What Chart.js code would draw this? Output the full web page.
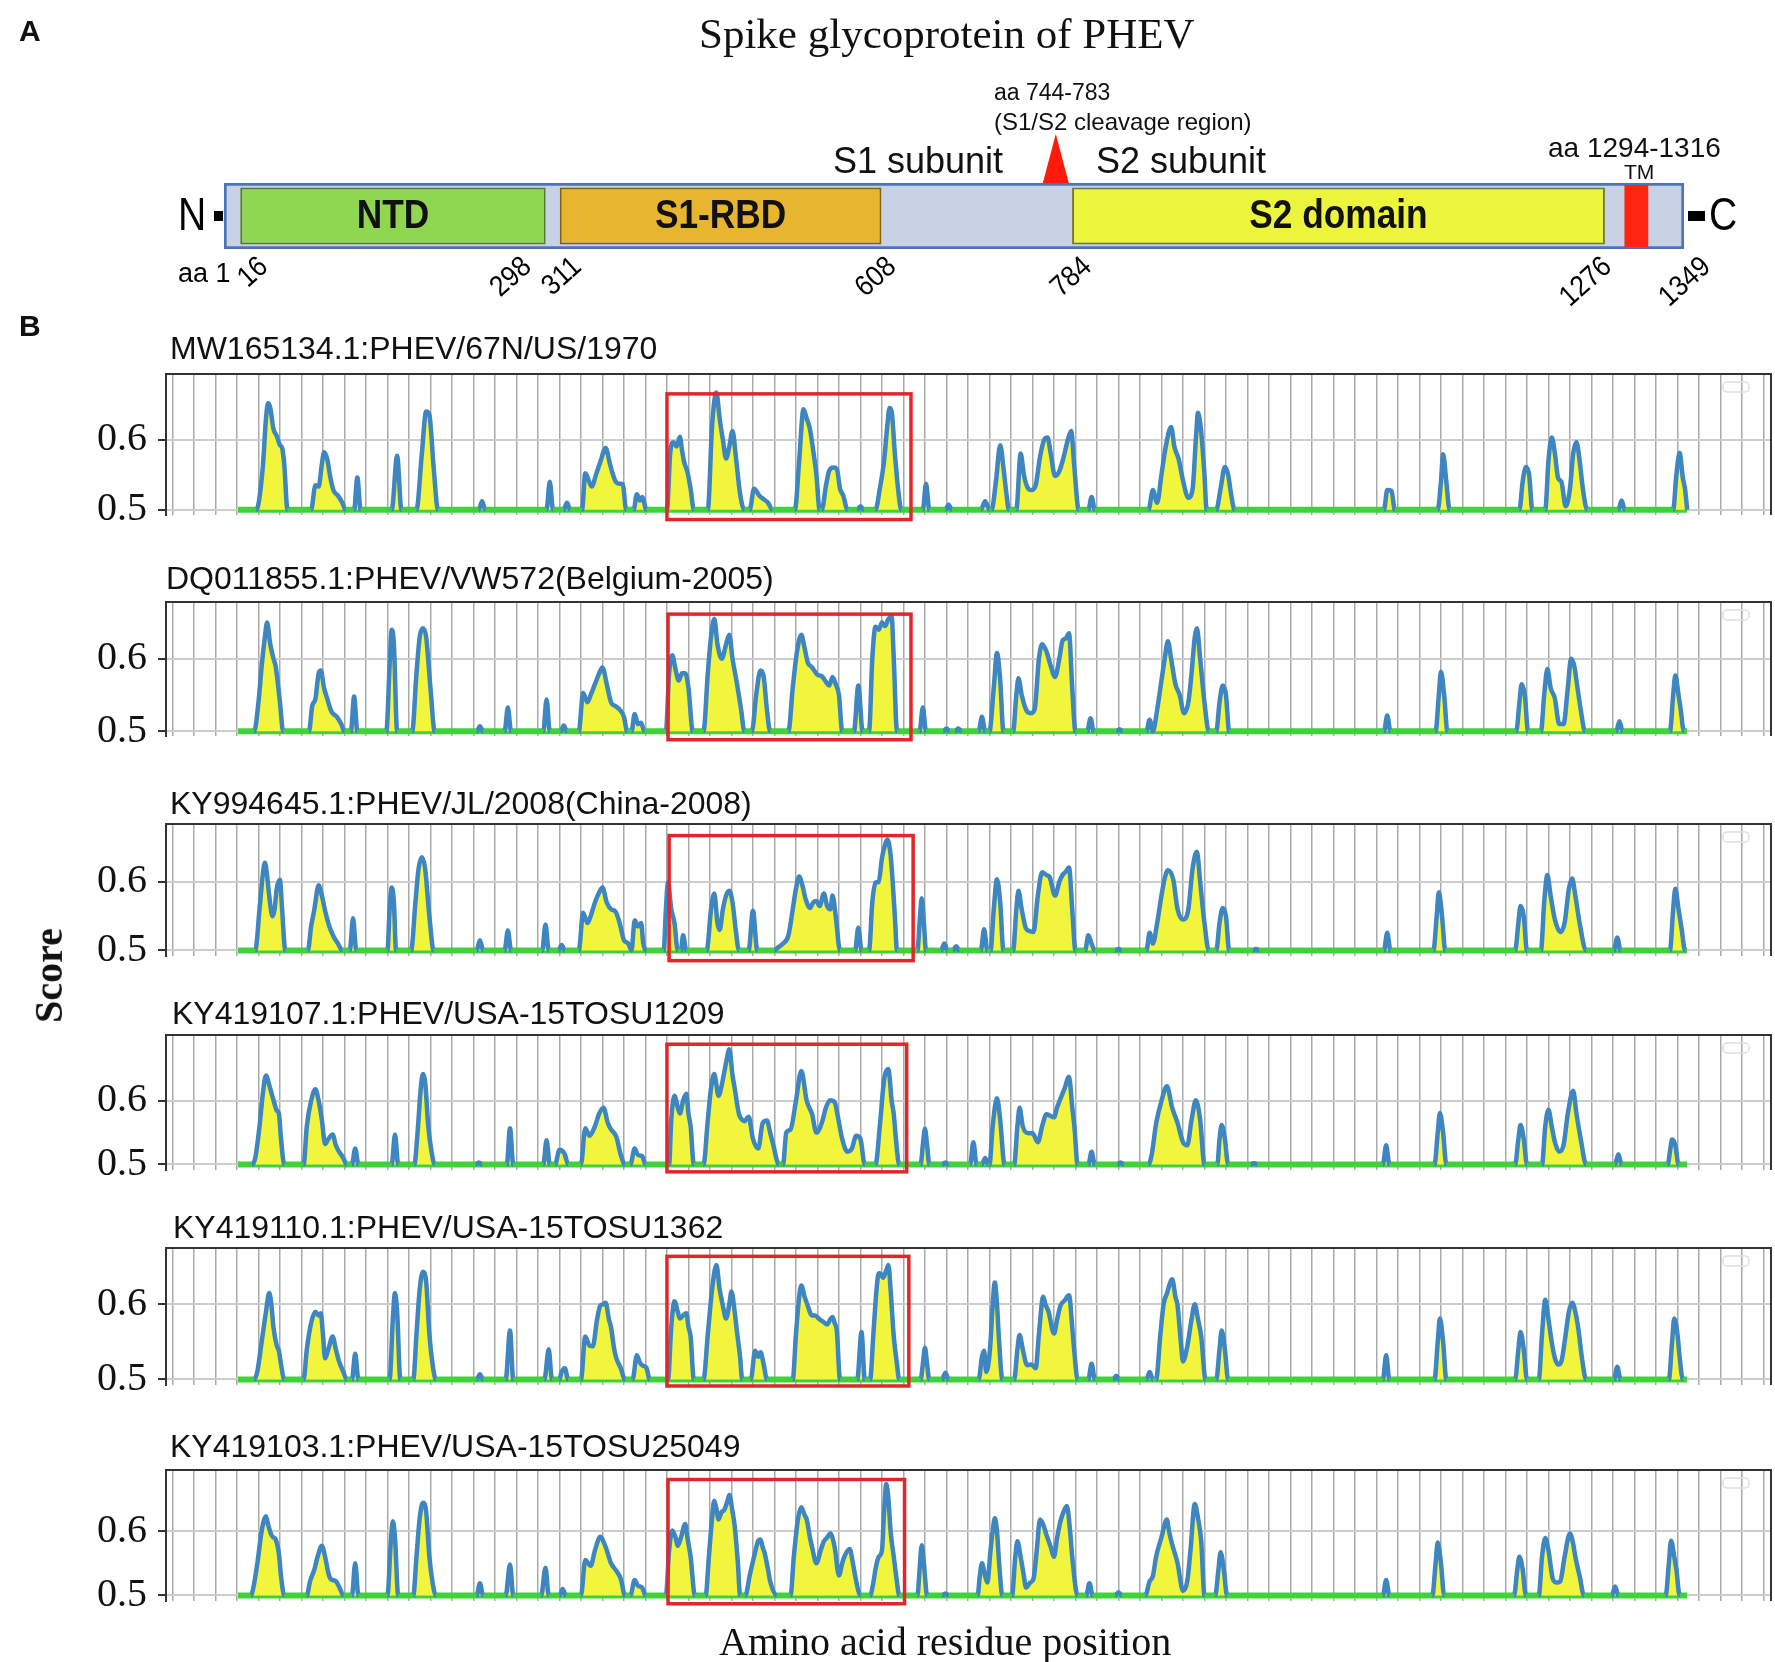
<!DOCTYPE html>
<html>
<head>
<meta charset="utf-8">
<script src="https://cdn.jsdelivr.net/npm/chart.js@4.4.1/dist/chart.umd.min.js"></script>
<style>
  html, body { margin: 0; padding: 0; background: #fff; }
  #page { position: relative; width: 1775px; height: 1662px; overflow: hidden; background: #fff; }
  #page canvas { position: absolute; left: 0; }
  .txt { position: absolute; white-space: nowrap; color: #111; line-height: 1; z-index: 5; }
</style>
</head>
<body>
<div id="page">
  <canvas id="domains" width="1775" height="330" style="top:0"></canvas>
</div>
<script>
// ---- panel A: spike domain map ----
var proteinLength = 1349;
var domainNames = ['NTD', 'S1-RBD', 'S2 domain', 'TM'];
var domainStart = [16, 311, 784, 1294];
var domainEnd = [298, 608, 1276, 1316];
var boundaryTicks = [16, 298, 311, 608, 784, 1276, 1349];
var cleavageMark = 769;

// ---- panel B: epitope score profiles (residue, score) ----
var titles = [
  'MW165134.1:PHEV/67N/US/1970',
  'DQ011855.1:PHEV/VW572(Belgium-2005)',
  'KY994645.1:PHEV/JL/2008(China-2008)',
  'KY419107.1:PHEV/USA-15TOSU1209',
  'KY419110.1:PHEV/USA-15TOSU1362',
  'KY419103.1:PHEV/USA-15TOSU25049'
];
var yTicks = [0.5, 0.6];
var threshold = 0.5;

var s1 = [[1,0.5],[18,0.5],[24,0.56],[27,0.63],[29,0.652],[31,0.645],[34,0.615],[37,0.605],[40,0.592],[42,0.588],[44,0.565],[47,0.5],
  [69,0.5],[73,0.535],[76,0.533],[79,0.565],[81,0.582],[84,0.572],[87,0.545],[90,0.527],[94,0.52],[98,0.51],[101,0.5],
  [109,0.5],[112,0.546],[115,0.5],[144,0.5],[149,0.577],[153,0.5],
  [167,0.5],[172,0.58],[176,0.64],[179,0.635],[183,0.56],[187,0.5],
  [225,0.5],[228,0.512],[231,0.5],[288,0.5],[291,0.54],[294,0.5],[304,0.5],[307,0.51],[310,0.5],
  [321,0.5],[324,0.552],[330,0.533],[334,0.55],[338,0.568],[343,0.588],[347,0.565],[352,0.541],[356,0.537],[359,0.536],[362,0.5],
  [369,0.5],[372,0.522],[375,0.513],[377,0.518],[381,0.5],
  [400,0.5],[403,0.58],[406,0.596],[409,0.59],[412,0.604],[414,0.585],[416,0.568],[419,0.554],[422,0.53],[425,0.5],
  [438,0.5],[442,0.62],[446,0.667],[449,0.63],[452,0.6],[455,0.573],[458,0.59],[461,0.612],[464,0.577],[468,0.523],[472,0.5],
  [477,0.5],[481,0.53],[486,0.52],[490,0.515],[494,0.51],[498,0.5],
  [519,0.5],[523,0.57],[527,0.643],[530,0.63],[533,0.615],[536,0.585],[539,0.55],[542,0.5],
  [544,0.5],[548,0.535],[551,0.556],[555,0.56],[558,0.558],[561,0.53],[564,0.52],[568,0.5],
  [577,0.5],[580,0.505],[583,0.5],
  [594,0.5],[598,0.53],[602,0.57],[605,0.62],[607,0.645],[609,0.64],[612,0.58],[615,0.53],[618,0.5],
  [638,0.5],[641,0.537],[644,0.5],[659,0.5],[662,0.507],[665,0.5],[692,0.5],[696,0.512],[700,0.5],
  [702,0.5],[706,0.54],[710,0.592],[713,0.56],[716,0.52],[718,0.5],
  [725,0.5],[729,0.58],[732,0.55],[735,0.533],[739,0.528],[743,0.535],[747,0.575],[751,0.6],[754,0.603],[757,0.58],[761,0.548],[765,0.555],[769,0.575],[773,0.6],[776,0.612],[779,0.56],[783,0.5],
  [792,0.5],[795,0.518],[798,0.5],
  [848,0.5],[852,0.528],[856,0.51],[860,0.55],[864,0.59],[869,0.618],[872,0.59],[876,0.572],[880,0.542],[885,0.517],[889,0.53],[892,0.6],[894,0.638],[897,0.61],[900,0.55],[902,0.5],
  [911,0.5],[915,0.53],[919,0.561],[922,0.55],[925,0.52],[928,0.5],
  [1067,0.5],[1070,0.528],[1074,0.527],[1077,0.5],
  [1117,0.5],[1120,0.54],[1122,0.579],[1125,0.54],[1128,0.5],
  [1193,0.5],[1196,0.54],[1199,0.561],[1202,0.55],[1205,0.5],
  [1217,0.5],[1220,0.57],[1223,0.603],[1226,0.58],[1229,0.545],[1232,0.54],[1236,0.505],[1240,0.53],[1243,0.58],[1246,0.596],[1249,0.57],[1252,0.53],[1256,0.5],
  [1285,0.5],[1288,0.513],[1291,0.5],
  [1336,0.5],[1339,0.55],[1342,0.581],[1345,0.545],[1347,0.53],[1349,0.5]];

var s2 = [[1,0.5],[16,0.5],[20,0.54],[23,0.59],[26,0.63],[28,0.65],[31,0.62],[34,0.6],[36,0.59],[38,0.567],[40,0.54],[43,0.5],
  [67,0.5],[70,0.535],[73,0.545],[76,0.58],[78,0.584],[81,0.56],[84,0.545],[88,0.527],[93,0.52],[97,0.51],[100,0.5],
  [106,0.5],[109,0.548],[112,0.5],[139,0.5],[142,0.59],[144,0.64],[146,0.62],[149,0.5],
  [163,0.5],[167,0.58],[170,0.63],[173,0.642],[176,0.63],[180,0.56],[184,0.5],
  [223,0.5],[226,0.507],[229,0.5],[249,0.5],[252,0.533],[255,0.5],[285,0.5],[288,0.544],[291,0.5],[301,0.5],[304,0.508],[307,0.5],
  [318,0.5],[322,0.553],[326,0.54],[329,0.55],[333,0.565],[337,0.58],[340,0.588],[344,0.565],[348,0.54],[352,0.535],[356,0.53],[360,0.52],[363,0.5],
  [367,0.5],[370,0.524],[373,0.51],[376,0.512],[379,0.5],
  [399,0.5],[402,0.58],[405,0.605],[408,0.585],[411,0.57],[414,0.58],[417,0.58],[420,0.56],[424,0.5],
  [434,0.5],[438,0.58],[441,0.63],[444,0.655],[447,0.62],[451,0.6],[455,0.62],[458,0.633],[461,0.6],[465,0.567],[469,0.53],[472,0.5],
  [479,0.5],[483,0.55],[487,0.584],[490,0.575],[493,0.53],[496,0.5],
  [513,0.5],[517,0.56],[521,0.61],[525,0.633],[528,0.615],[531,0.595],[535,0.588],[540,0.578],[544,0.576],[548,0.568],[551,0.563],[554,0.575],[557,0.565],[560,0.55],[563,0.5],
  [574,0.5],[578,0.563],[582,0.5],
  [588,0.5],[591,0.6],[594,0.644],[597,0.64],[600,0.65],[603,0.645],[606,0.655],[609,0.658],[611,0.6],[614,0.5],
  [635,0.5],[638,0.533],[641,0.5],[657,0.5],[660,0.504],[663,0.5],[668,0.5],[671,0.504],[674,0.5],[690,0.5],[693,0.52],[696,0.5],
  [700,0.5],[704,0.56],[707,0.608],[710,0.57],[713,0.5],
  [722,0.5],[725,0.55],[727,0.573],[730,0.55],[734,0.53],[738,0.525],[742,0.53],[746,0.6],[749,0.62],[753,0.61],[757,0.59],[761,0.575],[765,0.6],[768,0.625],[771,0.628],[774,0.635],[777,0.56],[780,0.5],
  [791,0.5],[794,0.518],[797,0.5],[818,0.5],[821,0.503],[824,0.5],
  [846,0.5],[849,0.516],[852,0.5],[856,0.53],[860,0.57],[863,0.6],[866,0.624],[869,0.6],[873,0.565],[877,0.55],[881,0.525],[885,0.54],[888,0.58],[891,0.63],[893,0.642],[896,0.6],[900,0.54],[904,0.5],
  [911,0.5],[914,0.54],[917,0.563],[920,0.55],[923,0.5],
  [1067,0.5],[1070,0.522],[1073,0.5],
  [1115,0.5],[1118,0.55],[1120,0.582],[1123,0.55],[1126,0.5],
  [1190,0.5],[1193,0.54],[1195,0.565],[1198,0.55],[1201,0.5],
  [1213,0.5],[1216,0.55],[1219,0.586],[1222,0.56],[1226,0.545],[1230,0.51],[1234,0.51],[1238,0.56],[1241,0.6],[1244,0.59],[1247,0.56],[1250,0.53],[1254,0.5],
  [1283,0.5],[1286,0.514],[1289,0.5],
  [1333,0.5],[1336,0.55],[1338,0.577],[1341,0.55],[1343,0.53],[1346,0.5],[1349,0.5]];

var s3 = [[1,0.5],[17,0.5],[21,0.56],[24,0.61],[26,0.628],[28,0.61],[30,0.58],[33,0.55],[35,0.56],[37,0.59],[40,0.603],[42,0.56],[45,0.5],
  [66,0.5],[69,0.535],[72,0.56],[76,0.595],[79,0.58],[82,0.558],[86,0.535],[90,0.52],[94,0.51],[98,0.5],
  [105,0.5],[108,0.547],[111,0.5],[140,0.5],[142,0.56],[144,0.592],[146,0.57],[148,0.5],
  [162,0.5],[166,0.57],[169,0.62],[172,0.636],[175,0.62],[179,0.55],[183,0.5],
  [223,0.5],[226,0.515],[229,0.5],[249,0.5],[252,0.529],[255,0.5],[284,0.5],[287,0.538],[290,0.5],[299,0.5],[302,0.508],[305,0.5],
  [318,0.5],[322,0.555],[326,0.54],[329,0.55],[333,0.57],[337,0.585],[340,0.592],[344,0.57],[348,0.56],[352,0.557],[356,0.54],[360,0.515],[364,0.51],[367,0.5],[370,0.544],[373,0.535],[376,0.54],[378,0.51],[381,0.5],
  [397,0.5],[399,0.56],[401,0.599],[404,0.56],[407,0.54],[410,0.5],[413,0.5],[415,0.522],[418,0.5],
  [437,0.5],[441,0.56],[444,0.583],[447,0.54],[449,0.53],[452,0.56],[455,0.58],[458,0.587],[461,0.57],[464,0.53],[467,0.5],
  [476,0.5],[480,0.558],[484,0.5],
  [500,0.5],[503,0.504],[508,0.51],[513,0.522],[517,0.56],[520,0.59],[523,0.608],[526,0.595],[529,0.575],[533,0.562],[536,0.57],[539,0.572],[542,0.565],[546,0.583],[549,0.565],[552,0.56],[554,0.58],[557,0.55],[561,0.5],
  [575,0.5],[578,0.533],[581,0.5],
  [588,0.5],[591,0.57],[594,0.599],[597,0.6],[600,0.635],[603,0.655],[605,0.662],[608,0.64],[610,0.6],[612,0.55],[614,0.5],
  [633,0.5],[635,0.54],[637,0.576],[639,0.54],[641,0.5],[655,0.5],[658,0.51],[661,0.5],[666,0.5],[669,0.506],[672,0.5],[692,0.5],[695,0.531],[698,0.5],
  [701,0.5],[704,0.56],[707,0.604],[710,0.57],[713,0.5],
  [722,0.5],[725,0.56],[727,0.587],[730,0.56],[734,0.532],[738,0.528],[741,0.527],[745,0.58],[749,0.614],[753,0.61],[756,0.607],[761,0.58],[765,0.6],[768,0.61],[771,0.615],[774,0.621],[777,0.56],[780,0.5],
  [789,0.5],[792,0.522],[795,0.51],[798,0.5],[817,0.5],[820,0.502],[823,0.5],
  [846,0.5],[849,0.526],[852,0.51],[856,0.54],[860,0.58],[863,0.605],[866,0.617],[871,0.603],[875,0.56],[880,0.545],[885,0.56],[889,0.62],[893,0.644],[896,0.6],[900,0.54],[904,0.5],
  [911,0.5],[914,0.54],[917,0.562],[920,0.55],[923,0.5],[945,0.5],[948,0.502],[951,0.5],
  [1067,0.5],[1070,0.526],[1073,0.5],
  [1113,0.5],[1116,0.55],[1118,0.585],[1121,0.55],[1124,0.5],
  [1189,0.5],[1192,0.54],[1194,0.565],[1197,0.55],[1200,0.5],
  [1213,0.5],[1216,0.57],[1219,0.61],[1222,0.58],[1226,0.545],[1231,0.527],[1235,0.54],[1239,0.59],[1242,0.605],[1245,0.58],[1249,0.54],[1255,0.5],
  [1281,0.5],[1284,0.519],[1287,0.5],
  [1333,0.5],[1336,0.56],[1338,0.59],[1341,0.56],[1344,0.53],[1347,0.5],[1349,0.5]];

var s4 = [[1,0.5],[14,0.5],[17,0.51],[21,0.56],[24,0.61],[27,0.64],[30,0.625],[32,0.613],[35,0.595],[37,0.585],[39,0.58],[41,0.54],[44,0.5],
  [62,0.5],[65,0.56],[69,0.6],[73,0.618],[76,0.6],[79,0.57],[82,0.532],[85,0.54],[89,0.547],[92,0.53],[95,0.52],[99,0.51],[102,0.5],
  [107,0.5],[110,0.525],[113,0.5],[144,0.5],[147,0.547],[150,0.5],
  [165,0.5],[168,0.55],[171,0.62],[173,0.642],[175,0.63],[178,0.56],[181,0.52],[184,0.5],
  [222,0.5],[225,0.503],[228,0.5],[251,0.5],[254,0.557],[257,0.5],
  [285,0.5],[288,0.538],[291,0.5],[296,0.5],[300,0.523],[305,0.516],[308,0.5],
  [320,0.5],[324,0.557],[328,0.545],[333,0.56],[337,0.58],[341,0.589],[345,0.565],[348,0.555],[353,0.543],[357,0.515],[361,0.5],
  [366,0.5],[370,0.525],[373,0.515],[377,0.513],[380,0.5],
  [402,0.5],[404,0.57],[407,0.608],[410,0.59],[412,0.58],[415,0.6],[418,0.611],[420,0.58],[422,0.56],[425,0.5],
  [434,0.5],[438,0.57],[441,0.62],[444,0.642],[448,0.608],[451,0.625],[455,0.66],[458,0.681],[461,0.64],[463,0.62],[467,0.579],[470,0.57],[472,0.568],[476,0.575],[480,0.54],[485,0.525],[489,0.565],[493,0.569],[496,0.55],[499,0.53],[504,0.5],
  [508,0.5],[511,0.55],[515,0.555],[520,0.6],[525,0.647],[530,0.6],[535,0.579],[539,0.55],[544,0.565],[548,0.59],[552,0.601],[556,0.598],[559,0.575],[563,0.54],[568,0.52],[572,0.525],[576,0.545],[580,0.54],[584,0.5],
  [594,0.5],[598,0.56],[602,0.633],[606,0.65],[609,0.6],[611,0.579],[613,0.54],[616,0.5],
  [636,0.5],[638,0.53],[640,0.556],[642,0.53],[644,0.5],[656,0.5],[659,0.503],[662,0.5],[682,0.5],[685,0.535],[688,0.5],[693,0.5],[696,0.51],[699,0.5],
  [700,0.5],[703,0.56],[707,0.604],[710,0.57],[714,0.5],
  [723,0.5],[726,0.56],[728,0.589],[731,0.56],[736,0.549],[740,0.549],[745,0.535],[749,0.56],[753,0.579],[757,0.576],[760,0.574],[763,0.59],[766,0.603],[770,0.62],[774,0.638],[777,0.59],[779,0.56],[782,0.5],
  [792,0.5],[795,0.52],[798,0.5],[819,0.5],[822,0.503],[825,0.5],
  [848,0.5],[851,0.516],[855,0.564],[860,0.6],[865,0.623],[870,0.589],[875,0.565],[880,0.535],[884,0.53],[888,0.57],[892,0.601],[896,0.57],[900,0.5],
  [912,0.5],[914,0.54],[916,0.562],[919,0.54],[922,0.5],[943,0.5],[946,0.502],[949,0.5],
  [1066,0.5],[1069,0.53],[1072,0.5],
  [1114,0.5],[1117,0.55],[1119,0.581],[1122,0.55],[1125,0.5],
  [1189,0.5],[1192,0.54],[1194,0.562],[1197,0.54],[1200,0.5],
  [1214,0.5],[1217,0.56],[1220,0.586],[1223,0.56],[1226,0.535],[1230,0.52],[1234,0.53],[1238,0.58],[1243,0.616],[1246,0.58],[1250,0.54],[1255,0.5],
  [1282,0.5],[1285,0.516],[1288,0.5],
  [1331,0.5],[1333,0.52],[1335,0.539],[1338,0.53],[1341,0.5],[1349,0.5]];

var s5 = [[1,0.5],[16,0.5],[19,0.511],[23,0.55],[27,0.59],[30,0.615],[32,0.6],[34,0.569],[37,0.545],[39,0.538],[41,0.52],[44,0.5],
  [62,0.5],[65,0.54],[69,0.575],[73,0.59],[76,0.585],[78,0.588],[80,0.56],[82,0.528],[85,0.54],[89,0.557],[92,0.54],[95,0.524],[99,0.51],[102,0.5],
  [107,0.5],[110,0.534],[113,0.5],[142,0.5],[145,0.58],[147,0.615],[149,0.59],[152,0.5],
  [164,0.5],[167,0.56],[170,0.62],[173,0.643],[176,0.63],[179,0.56],[182,0.52],[185,0.5],
  [223,0.5],[226,0.507],[229,0.5],[250,0.5],[254,0.565],[257,0.5],
  [286,0.5],[290,0.54],[293,0.5],[300,0.5],[302,0.51],[305,0.515],[308,0.5],
  [320,0.5],[324,0.557],[328,0.545],[331,0.544],[335,0.58],[338,0.598],[341,0.6],[343,0.602],[346,0.58],[348,0.569],[351,0.54],[353,0.528],[357,0.515],[361,0.5],
  [368,0.5],[372,0.532],[375,0.522],[377,0.519],[381,0.515],[384,0.5],
  [401,0.5],[404,0.57],[407,0.604],[410,0.59],[412,0.581],[415,0.585],[418,0.588],[420,0.57],[422,0.557],[425,0.5],
  [434,0.5],[438,0.56],[442,0.62],[446,0.652],[449,0.62],[452,0.598],[455,0.581],[458,0.6],[460,0.617],[463,0.59],[465,0.565],[468,0.53],[470,0.5],
  [478,0.5],[482,0.538],[485,0.53],[487,0.536],[490,0.52],[493,0.5],
  [517,0.5],[520,0.56],[523,0.61],[525,0.625],[528,0.61],[530,0.602],[535,0.585],[538,0.585],[541,0.581],[545,0.577],[549,0.573],[552,0.58],[554,0.583],[556,0.575],[558,0.565],[561,0.5],
  [577,0.5],[581,0.563],[584,0.5],
  [589,0.5],[592,0.56],[595,0.62],[597,0.641],[599,0.64],[601,0.635],[604,0.645],[606,0.652],[608,0.62],[611,0.557],[614,0.52],[616,0.5],
  [636,0.5],[638,0.52],[640,0.542],[642,0.52],[644,0.5],[656,0.5],[659,0.509],[662,0.5],
  [690,0.5],[693,0.53],[695,0.538],[697,0.51],[699,0.52],[701,0.55],[703,0.6],[705,0.629],[707,0.6],[709,0.55],[712,0.5],
  [723,0.5],[726,0.54],[728,0.559],[731,0.54],[735,0.519],[739,0.52],[743,0.515],[746,0.56],[750,0.61],[752,0.6],[755,0.59],[760,0.561],[763,0.58],[766,0.598],[770,0.605],[774,0.612],[777,0.57],[779,0.536],[782,0.5],
  [792,0.5],[795,0.521],[798,0.5],[815,0.5],[818,0.505],[821,0.5],
  [846,0.5],[849,0.51],[852,0.5],[855,0.5],[859,0.56],[862,0.6],[865,0.614],[870,0.633],[873,0.61],[875,0.598],[878,0.55],[880,0.524],[884,0.544],[888,0.58],[891,0.6],[894,0.58],[897,0.557],[901,0.5],
  [911,0.5],[914,0.54],[916,0.565],[919,0.54],[922,0.5],
  [1066,0.5],[1069,0.532],[1072,0.5],
  [1114,0.5],[1117,0.55],[1119,0.581],[1122,0.55],[1125,0.5],
  [1189,0.5],[1192,0.54],[1194,0.563],[1197,0.54],[1200,0.5],
  [1211,0.5],[1214,0.56],[1217,0.606],[1220,0.58],[1223,0.55],[1226,0.528],[1229,0.52],[1232,0.524],[1236,0.56],[1239,0.59],[1242,0.602],[1245,0.59],[1248,0.565],[1251,0.53],[1255,0.5],
  [1281,0.5],[1284,0.517],[1287,0.5],
  [1332,0.5],[1335,0.55],[1337,0.581],[1340,0.56],[1342,0.53],[1345,0.5],[1349,0.5]];

var s6 = [[1,0.5],[13,0.5],[15,0.51],[19,0.55],[23,0.6],[27,0.623],[29,0.61],[32,0.594],[34,0.59],[36,0.587],[39,0.565],[41,0.53],[44,0.5],
  [65,0.5],[68,0.522],[72,0.54],[75,0.56],[79,0.577],[82,0.56],[85,0.535],[87,0.526],[92,0.522],[96,0.51],[99,0.5],
  [107,0.5],[110,0.55],[113,0.5],[140,0.5],[143,0.58],[145,0.615],[147,0.59],[150,0.5],
  [164,0.5],[167,0.56],[170,0.62],[173,0.644],[176,0.63],[179,0.56],[182,0.52],[185,0.5],
  [223,0.5],[226,0.519],[229,0.5],[250,0.5],[254,0.548],[257,0.5],
  [283,0.5],[287,0.543],[290,0.5],[300,0.5],[303,0.51],[306,0.5],
  [320,0.5],[324,0.555],[329,0.546],[333,0.57],[338,0.591],[343,0.575],[348,0.55],[353,0.538],[357,0.526],[361,0.5],
  [366,0.5],[370,0.524],[373,0.515],[377,0.512],[380,0.5],
  [399,0.5],[402,0.57],[405,0.601],[408,0.59],[410,0.577],[413,0.59],[417,0.611],[419,0.59],[422,0.56],[426,0.5],
  [436,0.5],[439,0.56],[442,0.62],[444,0.647],[446,0.635],[448,0.618],[451,0.63],[453,0.632],[456,0.645],[458,0.656],[461,0.63],[463,0.608],[466,0.55],[468,0.5],
  [473,0.5],[477,0.531],[481,0.56],[485,0.585],[487,0.587],[489,0.575],[491,0.565],[494,0.54],[496,0.522],[502,0.5],
  [515,0.5],[518,0.56],[522,0.62],[525,0.637],[528,0.625],[530,0.618],[533,0.59],[535,0.575],[539,0.55],[543,0.57],[546,0.584],[549,0.59],[552,0.596],[556,0.575],[560,0.531],[563,0.55],[565,0.56],[570,0.572],[573,0.55],[575,0.531],[580,0.5],
  [589,0.5],[592,0.52],[594,0.541],[597,0.56],[600,0.57],[602,0.63],[604,0.673],[606,0.65],[608,0.6],[611,0.56],[614,0.52],[616,0.5],
  [633,0.5],[635,0.54],[637,0.578],[639,0.55],[642,0.5],[656,0.5],[659,0.503],[662,0.5],
  [689,0.5],[691,0.53],[693,0.55],[696,0.53],[698,0.52],[701,0.57],[703,0.6],[705,0.62],[707,0.6],[709,0.55],[712,0.5],
  [721,0.5],[724,0.56],[726,0.584],[729,0.56],[732,0.53],[734,0.512],[738,0.52],[741,0.526],[744,0.57],[747,0.618],[750,0.61],[753,0.594],[757,0.575],[760,0.56],[763,0.59],[766,0.615],[769,0.63],[772,0.639],[775,0.6],[777,0.56],[782,0.5],
  [790,0.5],[793,0.519],[796,0.5],[817,0.5],[820,0.505],[823,0.5],
  [845,0.5],[849,0.522],[852,0.53],[855,0.56],[860,0.59],[865,0.618],[867,0.6],[870,0.579],[875,0.55],[880,0.507],[884,0.522],[887,0.57],[891,0.642],[894,0.62],[897,0.584],[900,0.5],
  [910,0.5],[913,0.54],[915,0.567],[918,0.54],[921,0.5],
  [1066,0.5],[1069,0.524],[1072,0.5],
  [1112,0.5],[1115,0.55],[1117,0.582],[1120,0.55],[1123,0.5],
  [1188,0.5],[1191,0.54],[1193,0.56],[1196,0.54],[1199,0.5],
  [1211,0.5],[1214,0.56],[1217,0.589],[1220,0.57],[1224,0.526],[1228,0.52],[1231,0.522],[1235,0.56],[1240,0.596],[1243,0.58],[1245,0.56],[1249,0.53],[1253,0.5],
  [1279,0.5],[1282,0.514],[1285,0.5],
  [1329,0.5],[1332,0.55],[1334,0.585],[1337,0.56],[1339,0.54],[1342,0.5],[1349,0.5]];

var series = [s1, s2, s3, s4, s5, s6];

// boxed S1/S2 junction region per panel (residues, score)
var boxFrom = [400, 401, 402, 400, 400, 401];
var boxTo = [627, 627, 629, 623, 625, 621];
var boxHigh = [0.665, 0.6615, 0.6676, 0.689, 0.6636, 0.68];
var boxLow = [0.486, 0.4885, 0.4851, 0.4883, 0.4913, 0.487];

// axis ranges per panel
var xMin = -66, xMax = 1427;
var yMin = [0.4925, 0.4936, 0.4919, 0.4912, 0.4926, 0.4913];
var yMax = [0.6933, 0.6782, 0.6845, 0.7035, 0.6747, 0.6948];

// ---------------------------------------------------------------
var page = document.getElementById('page');
var SANS = '"Liberation Sans", Arial, sans-serif';
var SERIF = '"Liberation Serif", "Times New Roman", serif';
Chart.defaults.font.family = SANS;

function addText(txt, x, cy, css, align) {
    var d = document.createElement('div');
    d.className = 'txt';
    d.textContent = txt;
    d.style.cssText = css;
    page.appendChild(d);
    var w = d.offsetWidth, h = d.offsetHeight;
    d.style.top = (cy - h / 2) + 'px';
    d.style.left = (align === 'center' ? x - w / 2 : x) + 'px';
    return d;
}

// static labels
addText('A', 19, 31, 'font:bold 30px ' + SANS);
addText('B', 19, 326, 'font:bold 30px ' + SANS);
addText('Spike glycoprotein of PHEV', 947, 33, 'font:43px ' + SERIF, 'center');
addText('aa 744-783', 994, 92, 'font:23px ' + SANS);
addText('(S1/S2 cleavage region)', 994, 122, 'font:24px ' + SANS);
addText('S1 subunit', 918, 161, 'font:36px ' + SANS, 'center');
addText('S2 subunit', 1181, 161, 'font:36px ' + SANS, 'center');
addText('aa 1294-1316', 1548, 148, 'font:28px ' + SANS);
addText('TM', 1639, 172, 'font:21px ' + SANS, 'center');
addText('Amino acid residue position', 945, 1641, 'font:40px ' + SERIF, 'center');
var sc = addText('Score', 48, 975, 'font:bold 40px ' + SERIF, 'center');
sc.style.transform = 'rotate(-90deg)';

// ---- panel A chart ----
var domainFill = ['#8fd651', '#e8b530', '#ecf53c', '#ff2511'];
var domainEdge = ['#4f7d36', '#7d6222', '#6f7c37', '#ff2511'];
var numNudge = {16: 14, 298: -28, 311: 8, 608: 1, 784: 6, 1276: -7, 1349: 13};

var domainLabels = {
    id: 'domainLabels',
    afterDatasetsDraw: function (chart) {
        var ctx = chart.ctx, x = chart.scales.x, a = chart.chartArea;
        var cy = (a.top + a.bottom) / 2;
        var left = x.getPixelForValue(1), right = x.getPixelForValue(proteinLength);
        ctx.save();
        ctx.fillStyle = '#111';
        ctx.textAlign = 'center';
        ctx.textBaseline = 'middle';
        for (var i = 0; i < 3; i++) {
            var cx = (x.getPixelForValue(domainStart[i]) + x.getPixelForValue(domainEnd[i])) / 2;
            ctx.save();
            ctx.translate(cx, cy + 1);
            ctx.scale(0.86, 1);
            ctx.font = 'bold 41px ' + SANS;
            ctx.fillText(domainNames[i], 0, 0);
            ctx.restore();
        }
        // termini
        ctx.fillStyle = '#000';
        ctx.fillRect(left - 10, cy - 5, 9, 10);
        ctx.fillRect(right + 4, cy - 5, 17, 10);
        ctx.save();
        ctx.font = '46px ' + SANS;
        ctx.translate(left - 32, cy + 1);
        ctx.scale(0.85, 1);
        ctx.fillText('N', 0, 0);
        ctx.restore();
        ctx.save();
        ctx.font = '46px ' + SANS;
        ctx.translate(right + 39, cy + 1);
        ctx.scale(0.85, 1);
        ctx.fillText('C', 0, 0);
        ctx.restore();
        ctx.textAlign = 'left';
        ctx.font = '27px ' + SANS;
        ctx.fillText('aa 1', left - 46, 275);
        // boundary numbers
        ctx.textAlign = 'right';
        ctx.textBaseline = 'top';
        boundaryTicks.forEach(function (b) {
            ctx.save();
            ctx.translate(x.getPixelForValue(b) + numNudge[b], a.bottom + 3);
            ctx.rotate(-42 * Math.PI / 180);
            ctx.scale(0.9, 1);
            ctx.font = '29px ' + SANS;
            ctx.fillText(String(b), 0, 0);
            ctx.restore();
        });
        // cleavage marker
        var tx = x.getPixelForValue(cleavageMark);
        ctx.fillStyle = '#ff1a0a';
        ctx.beginPath();
        ctx.moveTo(tx, a.top - 49);
        ctx.lineTo(tx + 13, a.top);
        ctx.lineTo(tx - 13, a.top);
        ctx.closePath();
        ctx.fill();
        ctx.restore();
    }
};

new Chart(document.getElementById('domains'), {
    type: 'bar',
    data: {
        labels: ['S'],
        datasets: [{
            label: 'S',
            data: [[1, proteinLength]],
            backgroundColor: '#c9d1e4',
            borderColor: '#4c74bb',
            borderWidth: 3,
            borderSkipped: false,
            barPercentage: 1,
            categoryPercentage: 1,
            order: 9
        }].concat(domainNames.map(function (n, i) {
            return {
                label: n,
                data: [[domainStart[i], domainEnd[i]]],
                backgroundColor: domainFill[i],
                borderColor: domainEdge[i],
                borderWidth: n === 'TM' ? 0 : 2,
                borderSkipped: false,
                barPercentage: n === 'TM' ? 0.94 : 0.86,
                categoryPercentage: 1,
                order: i
            };
        }))
    },
    options: {
        indexAxis: 'y',
        responsive: false,
        animation: false,
        devicePixelRatio: 1,
        datasets: { bar: { grouped: false } },
        layout: { padding: { left: 224, right: 91, top: 183, bottom: 81 } },
        scales: {
            x: { display: false, min: 1, max: proteinLength },
            y: { display: false }
        },
        plugins: { legend: { display: false }, tooltip: { enabled: false } }
    },
    plugins: [domainLabels]
});

// ---- panel B charts ----
var plotTop = [369, 597, 819, 1030, 1243, 1465];
var plotBottom = [520, 741, 961, 1175, 1390, 1606];
var titleY = [348, 578, 803, 1013, 1227, 1446];
var titleX = [170, 166, 170, 172, 173, 170];
var PAD = 30;
var BLUE = '#3d86c1', GREEN = '#41d13b', YELLOW = '#f1f53c';

var frameAndBox = {
    id: 'frameAndBox',
    afterDatasetsDraw: function (chart, args, opts) {
        var ctx = chart.ctx, a = chart.chartArea, x = chart.scales.x, y = chart.scales.y;
        var k = opts.index;
        ctx.save();
        ctx.strokeStyle = '#333';
        ctx.lineWidth = 2;
        ctx.beginPath();
        ctx.moveTo(a.left, a.top);
        ctx.lineTo(a.right, a.top);
        ctx.lineTo(a.right, a.bottom);
        ctx.stroke();
        // faint legend stub
        ctx.strokeStyle = '#dedede';
        ctx.lineWidth = 1.5;
        ctx.beginPath();
        ctx.roundRect(a.right - 48, a.top + 8, 26, 10, 4);
        ctx.stroke();
        // boxed region
        var x0 = x.getPixelForValue(boxFrom[k]), x1 = x.getPixelForValue(boxTo[k]);
        var y0 = y.getPixelForValue(boxHigh[k]), y1 = y.getPixelForValue(boxLow[k]);
        ctx.strokeStyle = '#e2262a';
        ctx.lineWidth = 3.5;
        ctx.strokeRect(x0, y0, x1 - x0, y1 - y0);
        ctx.restore();
    }
};

function toPoints(s) {
    return s.map(function (p) { return { x: p[0], y: p[1] }; });
}

series.forEach(function (s, k) {
    var cv = document.createElement('canvas');
    var h = plotBottom[k] - plotTop[k] + 2 * PAD;
    cv.width = 1775;
    cv.height = h;
    cv.style.top = (plotTop[k] - PAD) + 'px';
    cv.style.width = '1775px';
    cv.style.height = h + 'px';
    page.appendChild(cv);

    addText(titles[k], titleX[k], titleY[k], 'font:32px ' + SANS);

    new Chart(cv, {
        type: 'line',
        data: {
            datasets: [{
                label: titles[k],
                data: toPoints(s),
                borderColor: BLUE,
                borderWidth: 4.5,
                pointRadius: 0,
                cubicInterpolationMode: 'monotone',
                fill: { value: threshold },
                backgroundColor: YELLOW,
                segment: {
                    borderColor: function (c) {
                        return (c.p0.parsed.y <= threshold && c.p1.parsed.y <= threshold) ? 'rgba(0,0,0,0)' : BLUE;
                    }
                },
                order: 0
            }, {
                label: 'threshold',
                data: [{ x: 1, y: threshold }, { x: proteinLength, y: threshold }],
                borderColor: GREEN,
                borderWidth: 6,
                pointRadius: 0,
                fill: false,
                order: 1
            }]
        },
        options: {
            responsive: false,
            animation: false,
            devicePixelRatio: 1,
            layout: { padding: { left: 0, right: 4, top: PAD, bottom: PAD } },
            plugins: {
                legend: { display: false },
                tooltip: { enabled: false },
                frameAndBox: { index: k }
            },
            scales: {
                x: {
                    type: 'linear',
                    min: xMin,
                    max: xMax,
                    border: { display: false },
                    grid: { color: '#a9a9a9', lineWidth: 1.5, drawTicks: false },
                    ticks: { display: false, stepSize: 20, includeBounds: false },
                    afterFit: function (sc) { sc.height = 0; }
                },
                y: {
                    min: yMin[k],
                    max: yMax[k],
                    border: { display: true, color: '#333', width: 2 },
                    grid: { color: '#cdcdcd', lineWidth: 2, tickLength: 8, tickColor: '#333', tickWidth: 2 },
                    ticks: {
                        padding: 11,
                        color: '#111',
                        font: { family: SERIF, size: 40 },
                        callback: function (v) { return Number(v).toFixed(1); }
                    },
                    afterBuildTicks: function (sc) {
                        sc.ticks = yTicks.map(function (v) { return { value: v }; });
                    },
                    afterFit: function (sc) { sc.width = 166; }
                }
            }
        },
        plugins: [frameAndBox]
    });
});
</script>
</body>
</html>
